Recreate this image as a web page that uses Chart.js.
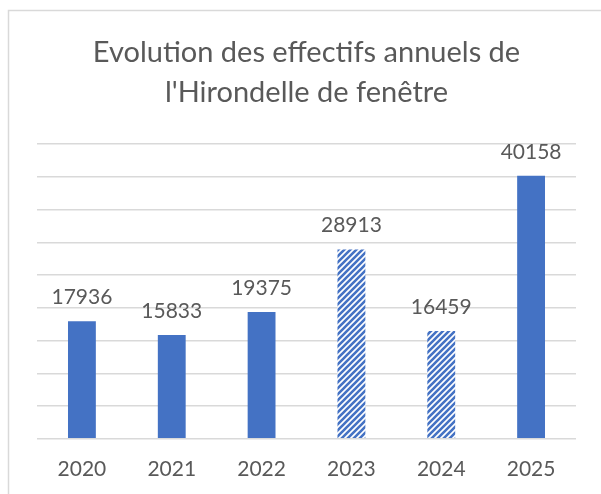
<!DOCTYPE html>
<html>
<head>
<meta charset="utf-8">
<script src="https://cdn.jsdelivr.net/npm/chart.js@4/dist/chart.umd.min.js"></script>
<style>
  html, body { margin: 0; padding: 0; background: #ffffff; }
  #wrap { width: 601px; height: 494px; position: relative; }
</style>
</head>
<body>
<div id="wrap"><canvas id="hirondelle-chart"></canvas></div>
<script>
var annees = ['2020', '2021', '2022', '2023', '2024', '2025'];
var effectifs = [17936, 15833, 19375, 28913, 16459, 40158];
// 2023 et 2024 sont hachurées dans l'original
var hachures = [false, false, false, true, true, false];
var titre = ['Evolution des effectifs annuels de', "l'Hirondelle de fenêtre"];

var bleu = '#4472C4';
var gris = '#595959';

function motifHachure() {
    var c = document.createElement('canvas');
    c.width = 6;
    c.height = 6;
    var ctx = c.getContext('2d');
    ctx.fillStyle = '#ffffff';
    ctx.fillRect(0, 0, 6, 6);
    ctx.strokeStyle = bleu;
    ctx.lineWidth = 2.6;
    ctx.beginPath();
    ctx.moveTo(-1, 7); ctx.lineTo(7, -1);
    ctx.moveTo(-4, 4); ctx.lineTo(4, -4);
    ctx.moveTo(2, 10); ctx.lineTo(10, 2);
    ctx.stroke();
    return ctx.createPattern(c, 'repeat');
}

var motif = motifHachure();
var couleurs = hachures.map(function (h) { return h ? motif : bleu; });

var cadre = {
    id: 'cadre',
    beforeDraw: function (chart) {
        var ctx = chart.ctx;
        ctx.save();
        ctx.fillStyle = '#ffffff';
        ctx.fillRect(0, 0, chart.width, chart.height);
        ctx.strokeStyle = '#d9d9d9';
        ctx.lineWidth = 1.5;
        ctx.strokeRect(8.5, 10.5, 700, 600);
        ctx.restore();
    }
};

var etiquettes = {
    id: 'etiquettes',
    afterDatasetsDraw: function (chart) {
        var ctx = chart.ctx;
        var meta = chart.getDatasetMeta(0);
        ctx.save();
        ctx.fillStyle = gris;
        ctx.font = '21px Lato';
        ctx.textAlign = 'center';
        ctx.textBaseline = 'alphabetic';
        meta.data.forEach(function (bar, i) {
            ctx.fillText(String(effectifs[i]), bar.x, bar.y - 17);
        });
        ctx.restore();
    }
};

var hirondelleChart = new Chart(document.getElementById('hirondelle-chart'), {
    type: 'bar',
    data: {
        labels: annees,
        datasets: [{
            data: effectifs,
            backgroundColor: couleurs,
            borderWidth: 0,
            categoryPercentage: 1,
            barPercentage: 0.31
        }]
    },
    options: {
        responsive: true,
        maintainAspectRatio: false,
        animation: false,
        layout: {
            padding: { left: 37, right: 25, top: 0, bottom: 2 }
        },
        plugins: {
            legend: { display: false },
            tooltip: { enabled: false },
            title: {
                display: true,
                text: titre,
                color: gris,
                font: { family: 'Lato', size: 29, weight: 'normal', lineHeight: 1.38 },
                padding: { top: 33, bottom: 31 }
            }
        },
        scales: {
            x: {
                grid: { display: false },
                border: { display: false },
                ticks: {
                    color: gris,
                    font: { family: 'Lato', size: 21 },
                    padding: 10
                }
            },
            y: {
                min: 0,
                max: 45000,
                ticks: { display: false, stepSize: 5000 },
                grid: { color: '#d9d9d9', lineWidth: 1.5, drawTicks: false },
                border: { display: false }
            }
        }
    },
    plugins: [cadre, etiquettes]
});
</script>
</body>
</html>
